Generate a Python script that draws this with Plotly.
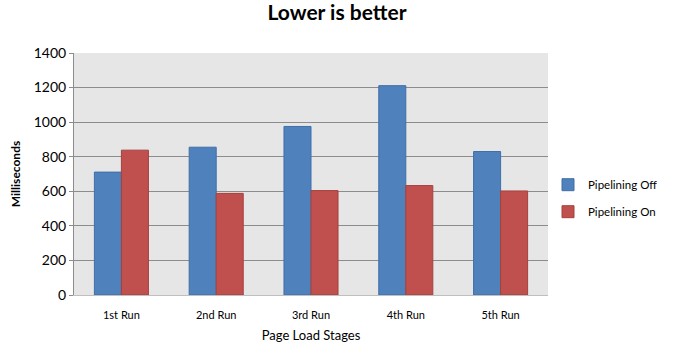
import plotly.graph_objects as go

categories = ["1st Run", "2nd Run", "3rd Run", "4th Run", "5th Run"]
pipelining_off = [711, 855, 975, 1211, 830]
pipelining_on = [838, 588, 604, 633, 602]
y_ticks = [0, 200, 400, 600, 800, 1000, 1200, 1400]

font_family = "Lato, 'Open Sans', sans-serif"

fig = go.Figure()
fig.add_trace(go.Bar(x=categories, y=pipelining_off, name="Pipelining Off", legendgroup="a",
                     marker=dict(color="#4f81bd", line=dict(color="#3f6fa8", width=1))))
fig.add_trace(go.Bar(x=categories, y=pipelining_on, name="Pipelining On", legendgroup="b",
                     marker=dict(color="#c0504d", line=dict(color="#a5403d", width=1))))

fig.update_layout(
    width=674, height=353,
    margin=dict(l=74, r=126, t=53, b=58, autoexpand=False),
    paper_bgcolor="white",
    plot_bgcolor="#e6e6e6",
    barmode="group",
    bargap=0.43,
    bargroupgap=0,
    title=dict(text="<b>Lower is better</b>", x=0.5, xanchor="center", y=0.985, yanchor="top",
               font=dict(family=font_family, size=21, color="black")),
    font=dict(family=font_family, size=11, color="black"),
    legend=dict(x=1.0, xanchor="left", y=0.40, yanchor="middle",
                font=dict(size=11.5, family=font_family), tracegroupgap=8,
                itemwidth=30, bgcolor="rgba(0,0,0,0)", traceorder="grouped"),
    xaxis=dict(title=dict(text="Page Load Stages", font=dict(size=13), standoff=10),
               showline=True, linecolor="#bfbfbf", tickfont=dict(size=11), ticks="",
               ticklabelstandoff=10),
    yaxis=dict(title=dict(text="<b>Milliseconds</b>", font=dict(size=12), standoff=10),
               range=[0, 1400], tickvals=y_ticks, showgrid=True, gridcolor="#8c8c8c",
               gridwidth=1, showline=True, linecolor="#8c8c8c", ticks="outside",
               ticklen=4, tickcolor="#8c8c8c", tickfont=dict(size=14), zeroline=False),
)

fig.write_html("out.html")
